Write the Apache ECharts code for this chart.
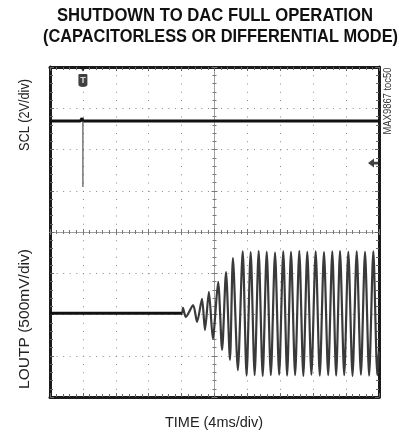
<!DOCTYPE html>
<html>
<head>
<meta charset="utf-8">
<script src="https://cdn.jsdelivr.net/npm/echarts@6/dist/echarts.min.js"></script>
<style>
  html, body { margin: 0; padding: 0; background: #fff; }
  #chart { width: 399px; height: 436px; }
</style>
</head>
<body>
<div id="chart"></div>
<script>
// x = time in ms (4ms/div, 0 = centre of screen), y = screen divisions
var sclTime = [-20, -16.3, -16.1, -16, -15.9, 20];
var sclLevel = [2.69, 2.69, 2.76, 2.69, 2.69, 2.69];
var spikeTime = [-16, -16];
var spikeLevel = [2.69, 1.09];

var baseTime = [-20, -3.9];
var baseLevel = [-1.97, -1.97];

// LOUTP turning points
var loutTime = [-3.9, -3.84, -3.48, -2.6, -2.12, -1.52, -1.16, -0.68, -0.2, 0.44, 0.92, 1.4, 1.88, 2.24, 2.84,
  3.43, 3.9, 4.4, 4.88, 5.37, 5.86, 6.35, 6.85, 7.36, 7.86, 8.36, 8.83, 9.3, 9.8, 10.31, 10.8,
  11.28, 11.78, 12.3, 12.8, 13.31, 13.82, 14.32, 14.79, 15.26, 15.77, 16.27, 16.78, 17.29, 17.8,
  18.3, 18.8, 19.31, 19.8, 20];
var loutLevel = [-1.97, -1.84, -2.06, -1.77, -2.18, -1.62, -2.38, -1.45, -2.59, -1.21, -2.86, -0.97, -3.1, -0.63, -3.35,
  -0.47, -3.48, -0.49, -3.47, -0.46, -3.49, -0.48, -3.47, -0.5, -3.46, -0.47, -3.48, -0.48, -3.47, -0.46, -3.49,
  -0.48, -3.46, -0.47, -3.48, -0.49, -3.47, -0.47, -3.48, -0.46, -3.47, -0.48, -3.49, -0.47, -3.46,
  -0.48, -3.48, -0.47, -3.47, -2.9];

var trigTime = [-16];
var trigLevel = [3.67];
var levelTime = [20];
var levelLevel = [1.67];

function zip(a, b) {
  return a.map(function (v, i) { return [v, b[i]]; });
}

var sans = "'Liberation Sans', Arial, sans-serif";

// squeeze text horizontally to look like a condensed face
var ctx = document.createElement('canvas').getContext('2d');
function label(text, font, x, y, width, rot, fill) {
  ctx.font = font;
  var w = ctx.measureText(text).width;
  return {
    type: 'text', x: x, y: y, rotation: rot || 0, scaleX: width / w,
    style: { text: text, font: font, fill: fill || '#222', align: 'center', verticalAlign: 'middle' }
  };
}

function frameX(pos, grid) {
  return {
    type: 'value', min: -20, max: 20, interval: 4, position: pos,
    axisLine: { onZero: false, lineStyle: { color: '#1a1a1a', width: 3 } },
    axisTick: { inside: true, length: 4, lineStyle: { color: '#666' } },
    minorTick: { show: true, splitNumber: 5, length: 3, lineStyle: { color: '#666' } },
    axisLabel: { show: false },
    splitLine: { show: grid, lineStyle: { color: '#888', width: 1, type: [1, 7.25] } }
  };
}
function frameY(pos, grid) {
  return {
    type: 'value', min: -4, max: 4, interval: 1, position: pos,
    axisLine: { onZero: false, lineStyle: { color: '#1a1a1a', width: 3 } },
    axisTick: { inside: true, length: 4, lineStyle: { color: '#666' } },
    minorTick: { show: true, splitNumber: 5, length: 3, lineStyle: { color: '#666' } },
    axisLabel: { show: false },
    splitLine: { show: grid, lineStyle: { color: '#888', width: 1, type: [1, 5.58] } }
  };
}
function centreX(pos) {
  return {
    type: 'value', min: -20, max: 20, interval: 4, position: pos,
    axisLine: { onZero: true, onZeroAxisIndex: 0, lineStyle: { color: '#999', width: 1, type: [1, 1] } },
    axisTick: { inside: true, length: 3, lineStyle: { color: '#777' } },
    minorTick: { show: true, splitNumber: 5, length: 2, lineStyle: { color: '#777' } },
    axisLabel: { show: false }, splitLine: { show: false }
  };
}
function centreY(pos) {
  return {
    type: 'value', min: -4, max: 4, interval: 1, position: pos,
    axisLine: { onZero: true, onZeroAxisIndex: 0, lineStyle: { color: '#999', width: 1, type: [1, 1] } },
    axisTick: { inside: true, length: 3, lineStyle: { color: '#777' } },
    minorTick: { show: true, splitNumber: 5, length: 2, lineStyle: { color: '#777' } },
    axisLabel: { show: false }, splitLine: { show: false }
  };
}

var chart = echarts.init(document.getElementById('chart'));
chart.setOption({
  animation: false,
  backgroundColor: '#fff',
  grid: { left: 50, top: 67, right: 20, bottom: 39 },
  xAxis: [frameX('bottom', true), frameX('top', false), centreX('bottom'), centreX('top')],
  yAxis: [frameY('left', true), frameY('right', false), centreY('left'), centreY('right')],
  graphic: [
    label('SHUTDOWN TO DAC FULL OPERATION', 'bold 18px ' + sans, 215, 16, 316, 0, '#111'),
    label('(CAPACITORLESS OR DIFFERENTIAL MODE)', 'bold 18px ' + sans, 220.5, 37, 355, 0, '#111'),
    label('SCL (2V/div)', '14px ' + sans, 25, 115, 72, Math.PI / 2),
    label('LOUTP (500mV/div)', '14px ' + sans, 25, 319, 140, Math.PI / 2),
    label('MAX9867 toc50', '10px ' + sans, 388, 101, 67, Math.PI / 2, '#333'),
    label('TIME (4ms/div)', '14px ' + sans, 214, 423, 98)
  ],
  series: [
    { type: 'line', data: zip(sclTime, sclLevel), symbol: 'none', silent: true, lineStyle: { color: '#111', width: 3 } },
    { type: 'line', data: zip(spikeTime, spikeLevel), symbol: 'none', silent: true, lineStyle: { color: '#555', width: 1.2 } },
    { type: 'line', data: zip(baseTime, baseLevel), symbol: 'none', silent: true, lineStyle: { color: '#111', width: 3 } },
    { type: 'line', data: zip(loutTime, loutLevel), symbol: 'none', silent: true, smooth: 0.25, lineStyle: { color: '#3a3a3a', width: 2.2 } },
    {
      type: 'scatter', data: zip(trigTime, trigLevel), silent: true,
      symbol: 'path://M1,0 L9,0 Q10,0 10,1 L10,11 Q10,14 5,14 Q0,14 0,11 L0,1 Q0,0 1,0 Z', symbolSize: [9, 13],
      itemStyle: { color: '#111' },
      label: { show: true, formatter: 'T', color: '#fff', fontSize: 9, fontWeight: 'bold', fontFamily: sans, position: 'inside' }
    },
    {
      type: 'scatter', data: zip(trigTime, [4]), silent: true,
      symbol: 'triangle', symbolRotate: 180, symbolSize: [7, 5], symbolOffset: [0, 2], itemStyle: { color: '#111' }
    },
    {
      type: 'scatter', data: zip(levelTime, levelLevel), silent: true,
      symbol: 'path://M0,5 L6,0 L6,3.5 L10,3.5 L10,6.5 L6,6.5 L6,10 Z', symbolSize: [10, 9], symbolOffset: [-6, 0],
      itemStyle: { color: '#111' }
    }
  ]
});
</script>
</body>
</html>
